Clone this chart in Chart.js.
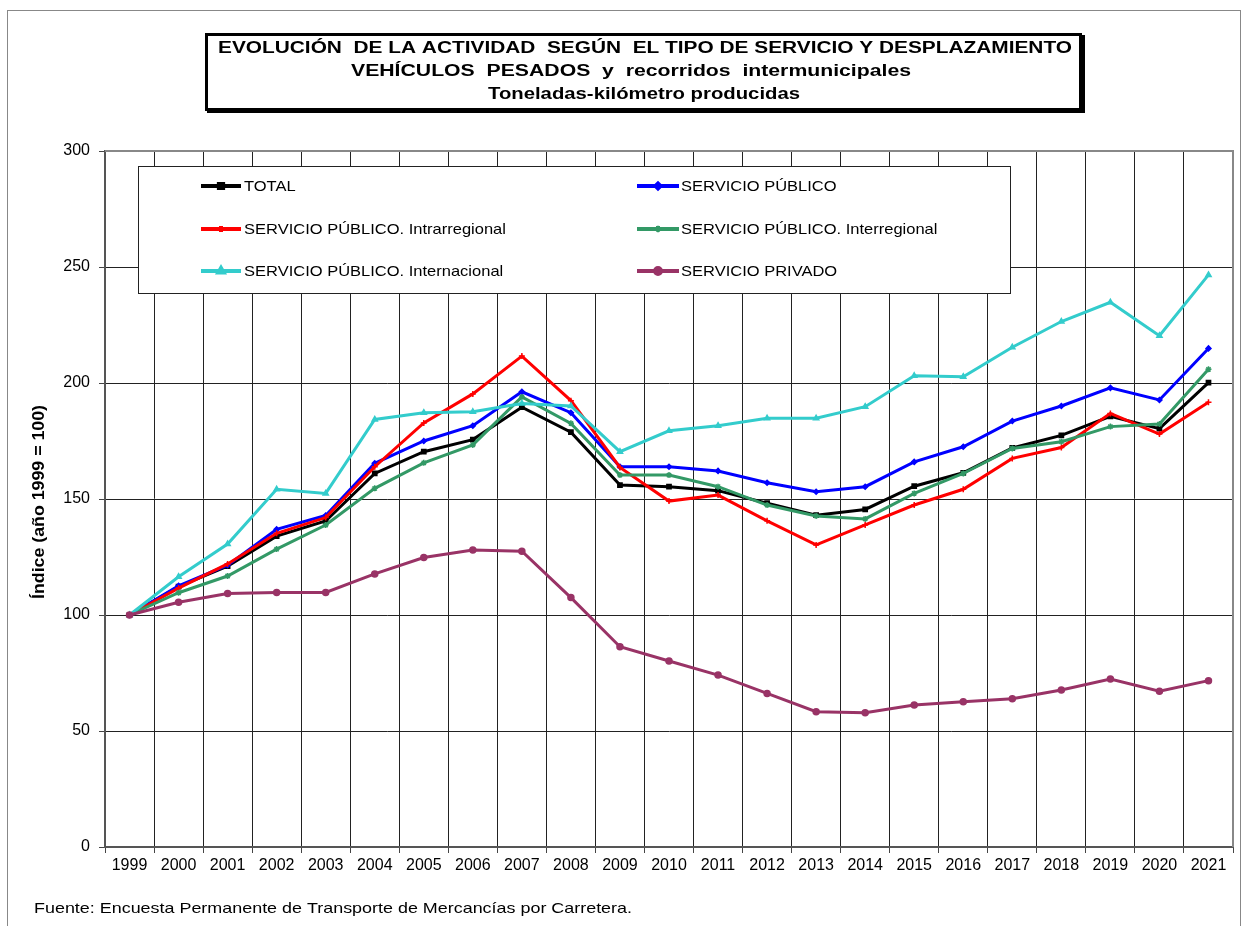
<!DOCTYPE html>
<html>
<head>
<meta charset="utf-8">
<script src="https://cdn.jsdelivr.net/npm/chart.js@4"></script>
<style>
  html, body { margin: 0; padding: 0; background: #fff; }
  canvas { display: block; }
</style>
</head>
<body>
<canvas id="evolucionChart"></canvas>
<script>
// datos (indice 1999 = 100)
const years = ['1999','2000','2001','2002','2003','2004','2005','2006','2007','2008','2009','2010','2011','2012','2013','2014','2015','2016','2017','2018','2019','2020','2021'];
const yTicks = [0, 50, 100, 150, 200, 250, 300];

const total          = [100, 112.2, 121.1, 134.0, 140.5, 161.0, 170.4, 175.6, 189.6, 178.8, 156.0, 155.3, 153.6, 148.2, 143.0, 145.5, 155.5, 161.3, 172.0, 177.4, 185.6, 180.3, 200.2];
const servicioPublico = [100, 112.6, 121.5, 136.9, 142.9, 165.4, 175.0, 181.6, 196.2, 187.2, 163.9, 163.9, 162.1, 157.0, 153.1, 155.3, 166.0, 172.5, 183.6, 190.1, 197.9, 192.7, 214.9];
const intrarregional = [100, 111.6, 122.0, 135.2, 142.0, 163.9, 182.8, 195.3, 211.6, 192.4, 163.6, 149.1, 151.7, 140.6, 130.2, 138.8, 147.4, 154.2, 167.5, 172.2, 186.9, 178.0, 191.7];
const interregional  = [100, 109.6, 116.8, 128.4, 138.8, 154.6, 165.6, 173.3, 194.0, 182.6, 160.3, 160.3, 155.3, 147.4, 142.7, 141.4, 152.4, 161.0, 171.8, 174.7, 181.2, 182.3, 205.9];
const internacional  = [100, 116.5, 130.6, 154.2, 152.4, 184.3, 187.2, 187.6, 191.2, 190.1, 170.4, 179.4, 181.6, 184.8, 184.8, 189.8, 203.1, 202.7, 215.4, 226.5, 234.8, 220.4, 246.6];
const privado        = [100, 105.5, 109.3, 109.7, 109.7, 117.7, 124.8, 128.0, 127.5, 107.5, 86.3, 80.2, 74.1, 66.2, 58.3, 57.9, 61.2, 62.6, 63.9, 67.7, 72.4, 67.1, 71.7];

const seriesNames = ['TOTAL', 'SERVICIO PÚBLICO', 'SERVICIO PÚBLICO. Intrarregional', 'SERVICIO PÚBLICO. Interregional', 'SERVICIO PÚBLICO. Internacional', 'SERVICIO PRIVADO'];
const seriesData = [total, servicioPublico, intrarregional, interregional, internacional, privado];
const seriesColors = ['#000000', '#0000FF', '#FF0000', '#339966', '#33CCCC', '#993366'];
const seriesPoints = ['rect', 'rectRot', 'cross', 'star', 'triangle', 'circle'];
const seriesRadius = [3, 2.5, 3, 3, 3, 3];

const FONT = '"Liberation Sans", Arial, sans-serif';

const canvas = document.getElementById('evolucionChart');
canvas.style.width = '1243px';
canvas.style.height = '926px';
canvas.width = 1243;
canvas.height = 926;

// dibuja texto escalado en horizontal
function scaledText(ctx, text, x, y, sx) {
    ctx.save();
    ctx.translate(x, y);
    ctx.scale(sx, 1);
    ctx.fillText(text, 0, 0);
    ctx.restore();
}

// dibuja texto comprimido/estirado a un ancho fijo
function fitText(ctx, text, x, y, width) {
    scaledText(ctx, text, x, y, width / ctx.measureText(text).width);
}

const decorPlugin = {
    id: 'decor',
    beforeDraw(chart) {
        const ctx = chart.ctx;
        ctx.save();
        ctx.fillStyle = '#fff';
        ctx.fillRect(0, 0, chart.width, chart.height);
        // marco exterior
        ctx.strokeStyle = '#888';
        ctx.lineWidth = 1;
        ctx.strokeRect(7.5, 10.5, 1233, 930);
        ctx.restore();
    },
    afterDatasetsDraw(chart) {
        const ctx = chart.ctx;
        const area = chart.chartArea;
        ctx.save();

        // borde superior y derecho del area
        ctx.strokeStyle = '#888';
        ctx.lineWidth = 2;
        ctx.beginPath();
        ctx.moveTo(area.left, area.top);
        ctx.lineTo(area.right, area.top);
        ctx.lineTo(area.right, area.bottom);
        ctx.stroke();

        // leyenda
        const lx = 138, ly = 166, lw = 872, lh = 127;
        ctx.fillStyle = '#fff';
        ctx.fillRect(lx, ly, lw, lh);
        ctx.strokeStyle = '#222';
        ctx.lineWidth = 1;
        ctx.strokeRect(lx + 0.5, ly + 0.5, lw, lh);

        const cols = [{ x0: 201, x1: 241, tx: 244 }, { x0: 637, x1: 679, tx: 681 }];
        const rows = [186, 229, 271];
        ctx.font = '15px ' + FONT;
        ctx.textBaseline = 'middle';
        ctx.textAlign = 'left';
        seriesNames.forEach((name, i) => {
            const c = cols[i % 2];
            const y = rows[Math.floor(i / 2)];
            ctx.strokeStyle = seriesColors[i];
            ctx.lineWidth = 4;
            ctx.beginPath();
            ctx.moveTo(c.x0, y);
            ctx.lineTo(c.x1, y);
            ctx.stroke();
            ctx.fillStyle = seriesColors[i];
            Chart.helpers.drawPoint(ctx, {
                pointStyle: seriesPoints[i],
                radius: seriesRadius[i],
                rotation: 0,
                borderWidth: 1.5
            }, (c.x0 + c.x1) / 2, y);
            ctx.fillStyle = '#000';
            scaledText(ctx, name, c.tx, y + 1, 1.1);
        });
        ctx.restore();
    },
    afterDraw(chart) {
        const ctx = chart.ctx;
        ctx.save();

        // caja del titulo
        ctx.fillStyle = '#000';
        ctx.fillRect(207, 35, 878, 78);
        ctx.fillStyle = '#fff';
        ctx.fillRect(205, 33, 876, 76);
        ctx.strokeStyle = '#000';
        ctx.lineWidth = 3;
        ctx.strokeRect(206.5, 34.5, 874, 75);

        ctx.fillStyle = '#000';
        ctx.textAlign = 'center';
        ctx.textBaseline = 'middle';
        ctx.font = 'bold 16px ' + FONT;
        fitText(ctx, 'EVOLUCIÓN  DE LA ACTIVIDAD  SEGÚN  EL TIPO DE SERVICIO Y DESPLAZAMIENTO', 645, 49, 854);
        fitText(ctx, 'VEHÍCULOS  PESADOS  y  recorridos  intermunicipales', 631, 72, 560);
        fitText(ctx, 'Toneladas-kilómetro producidas', 644, 95, 312);

        // titulo del eje y
        ctx.save();
        ctx.translate(40, 502);
        ctx.rotate(-Math.PI / 2);
        ctx.font = 'bold 16px ' + FONT;
        fitText(ctx, 'Índice (año 1999 = 100)', 0, 0, 194);
        ctx.restore();

        // fuente
        ctx.textAlign = 'left';
        ctx.textBaseline = 'alphabetic';
        ctx.font = '15px ' + FONT;
        fitText(ctx, 'Fuente: Encuesta Permanente de Transporte de Mercancías por Carretera.', 34, 913, 598);
        ctx.restore();
    }
};

const datasets = seriesNames.map((name, i) => ({
    label: name,
    data: seriesData[i],
    borderColor: seriesColors[i],
    backgroundColor: seriesColors[i],
    borderWidth: 3,
    pointStyle: seriesPoints[i],
    pointRadius: seriesRadius[i],
    pointBorderWidth: 1.5,
    tension: 0,
    fill: false,
    order: seriesNames.length - i // como Excel: la ultima serie encima
}));

const chart = new Chart(canvas, {
    type: 'line',
    data: { labels: years, datasets: datasets },
    options: {
        responsive: false,
        maintainAspectRatio: false,
        animation: false,
        layout: { padding: { left: 0, top: 151, right: 10, bottom: 0 } },
        plugins: {
            legend: { display: false },
            title: { display: false },
            tooltip: { enabled: false }
        },
        scales: {
            x: {
                offset: true,
                grid: {
                    offset: true,
                    color: '#222',
                    lineWidth: 1,
                    borderDash: [1, 1],
                    tickLength: 6,
                    tickBorderDash: [1, 0],
                    tickColor: '#444'
                },
                border: { color: '#555', width: 2 },
                ticks: {
                    color: '#000',
                    font: { family: FONT, size: 16 },
                    padding: 3,
                    maxRotation: 0,
                    autoSkip: false
                },
                afterFit(scale) { scale.height = 79; }
            },
            y: {
                min: 0,
                max: 300,
                afterBuildTicks(scale) { scale.ticks = yTicks.map(v => ({ value: v })); },
                grid: {
                    color: '#222',
                    lineWidth: 1,
                    borderDash: [1, 1],
                    tickLength: 6,
                    tickBorderDash: [1, 0],
                    tickColor: '#444'
                },
                border: { color: '#555', width: 2 },
                ticks: {
                    color: '#000',
                    font: { family: FONT, size: 16 },
                    padding: 9
                },
                afterFit(scale) { scale.width = 105; }
            }
        }
    },
    plugins: [decorPlugin]
});
</script>
</body>
</html>
